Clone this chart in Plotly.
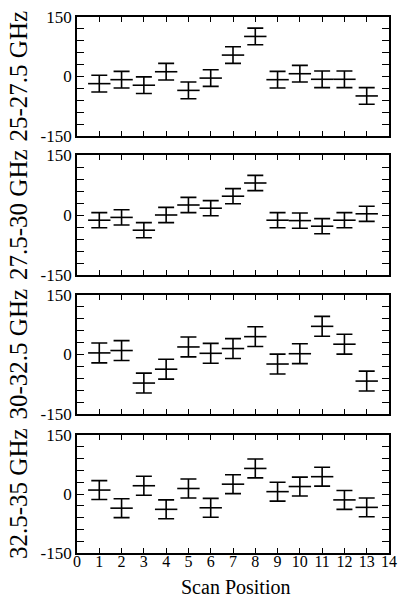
import plotly.graph_objects as go

positions = list(range(1, 14))
band_labels = ["25-27.5 GHz", "27.5-30 GHz", "30-32.5 GHz", "32.5-35 GHz"]

band1 = [-18, -8, -22, 12, -35, -4, 54, 101, -8, 7, -7, -7, -49]
band1_err = [21] * 13
band2 = [-13, -6, -38, 0, 25, 17, 47, 80, -13, -14, -28, -13, 3]
band2_err = [19] * 13
band3 = [4, 10, -72, -37, 19, 3, 15, 45, -24, 2, 71, 26, -67]
band3_err = [25] * 13
band4 = [10, -36, 21, -39, 14, -35, 25, 65, 6, 19, 44, -15, -34]
band4_err = [24] * 13

series = [(band1, band1_err), (band2, band2_err), (band3, band3_err), (band4, band4_err)]

x_ticks = list(range(0, 15))
y_ticks = list(range(-150, 151, 30))
y_ticktext = ["-150" if v == -150 else "0" if v == 0 else "150" if v == 150 else "" for v in y_ticks]

W, H = 401, 598
left, right, top, bottom = 77, 389, 17, 553
panels_px = [(17, 136), (155, 275), (295, 414), (435, 553)]
span = bottom - top

FONT = "Liberation Serif"
fig = go.Figure()
layout = dict(
    width=W, height=H, autosize=False,
    margin=dict(l=left, r=W - right, t=top, b=H - bottom, pad=0, autoexpand=False),
    paper_bgcolor="white", plot_bgcolor="white",
    showlegend=False,
    font=dict(family=FONT, color="black", size=17),
)

annotations = []
for i, ((vals, errs), lab) in enumerate(zip(series, band_labels)):
    n = i + 1
    xa = "x" if n == 1 else f"x{n}"
    ya = "y" if n == 1 else f"y{n}"
    fig.add_trace(go.Scatter(
        x=positions, y=vals, xaxis=xa, yaxis=ya, mode="markers",
        marker=dict(symbol="line-ew", size=16, color="black",
                    line=dict(color="black", width=1.6)),
        error_y=dict(type="data", array=errs, visible=True, color="black",
                     thickness=1.6, width=8),
        cliponaxis=False,
    ))
    ptop, pbot = panels_px[i]
    d0 = (bottom - pbot) / span
    d1 = (bottom - ptop) / span
    xkey = "xaxis" if n == 1 else f"xaxis{n}"
    ykey = "yaxis" if n == 1 else f"yaxis{n}"
    layout[xkey] = dict(
        domain=[0, 1], anchor=ya, range=[0, 14],
        tickmode="array", tickvals=x_ticks,
        ticks="inside", ticklen=5, tickwidth=1.4, tickcolor="black",
        showline=True, linewidth=1.9, linecolor="black", mirror="allticks",
        showgrid=False, zeroline=False, automargin=False,
        showticklabels=(n == 4), ticklabelstandoff=-7,
        tickfont=dict(family=FONT, size=16, color="black"),
    )
    if n != 1:
        layout[xkey]["matches"] = "x"
    layout[ykey] = dict(
        domain=[d0, d1], anchor=xa, range=[-150, 150],
        tickmode="array", tickvals=y_ticks, ticktext=y_ticktext,
        ticks="inside", ticklen=7, tickwidth=1.4, tickcolor="black",
        showline=True, linewidth=1.9, linecolor="black", mirror="allticks",
        showgrid=False, zeroline=False, automargin=False,
        tickfont=dict(family=FONT, size=17, color="black"),
    )
    annotations.append(dict(
        text=lab, xref="paper", yref="paper",
        x=(18 - left) / (right - left), y=(d0 + d1) / 2,
        xanchor="center", yanchor="middle", textangle=-90, showarrow=False,
        font=dict(family=FONT, size=25, color="black"),
    ))

annotations.append(dict(
    text="Scan Position", xref="paper", yref="paper",
    x=(235 - left) / (right - left), y=(bottom - 587) / span,
    xanchor="center", yanchor="middle",
    showarrow=False, font=dict(family=FONT, size=20, color="black"),
))
layout["annotations"] = annotations
fig.update_layout(**layout)
fig.write_html(
    "out.html",
    config={"displayModeBar": False, "responsive": False},
    post_script="document.body.style.margin='0px';document.body.style.overflow='hidden';",
)
